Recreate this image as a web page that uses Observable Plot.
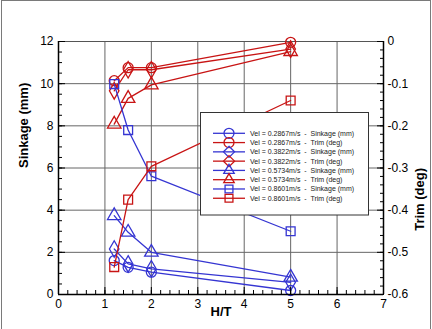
<!DOCTYPE html>
<html>
<head>
<meta charset="utf-8">
<script src="https://cdn.jsdelivr.net/npm/d3@7"></script>
<script src="https://cdn.jsdelivr.net/npm/@observablehq/plot@0.6"></script>
<style>
  html, body { margin: 0; padding: 0; background: #fff; }
  #wrap { position: relative; width: 432px; height: 329px; overflow: hidden; background: #fff; }
  #wrap svg { display: block; }
  #overlay { position: absolute; left: 0; top: 0; pointer-events: none; }
  #border { position: absolute; left: 1px; top: 0px; width: 428px; height: 340px; border: 1.5px solid #7a7a7a; pointer-events: none; }
</style>
</head>
<body>
<div id="wrap"></div>
<script>
// ---- data ----
const HT = [1.2, 1.5, 2, 5];
const velocities = ["0.2867", "0.3822", "0.5734", "0.8601"];
const symbols = ["circle", "diamond", "triangle", "square"];

const sinkage_02867 = [1.61, 1.29, 1.06, 0.19];
const sinkage_03822 = [2.16, 1.45, 1.22, 0.58];
const sinkage_05734 = [3.74, 2.95, 2.00, 0.82];
const sinkage_08601 = [9.98, 7.80, 5.61, 3.00];

const trim_02867 = [-0.093, -0.062, -0.062, -0.002];
const trim_03822 = [-0.117, -0.067, -0.067, -0.018];
const trim_05734 = [-0.196, -0.135, -0.103, -0.024];
const trim_08601 = [-0.535, -0.375, -0.296, -0.140];

const sinkageSeries = [sinkage_02867, sinkage_03822, sinkage_05734, sinkage_08601];
const trimSeries = [trim_02867, trim_03822, trim_05734, trim_08601];

const xTicks = [0, 1, 2, 3, 4, 5, 6, 7];
const sinkTicks = [0, 2, 4, 6, 8, 10, 12];
const trimTicks = [0, -0.1, -0.2, -0.3, -0.4, -0.5, -0.6];

const BLUE = "#3535d2";
const RED = "#c81414";

// trim axis maps [-0.6, 0] onto the sinkage axis [0, 12]
const trimToY = t => t * 20 + 12;
const yToTrim = y => (y - 12) / 20;

// ---- build table ----
const rows = [];
velocities.forEach((v, i) => {
  HT.forEach((h, j) => {
    rows.push({vel: v, symbol: symbols[i], series: "Sinkage", ht: h, value: sinkageSeries[i][j], y: sinkageSeries[i][j]});
    rows.push({vel: v, symbol: symbols[i], series: "Trim", ht: h, value: trimSeries[i][j], y: trimToY(trimSeries[i][j])});
  });
});

const minorX = d3.range(0, 7.0001, 0.2).map(d => +d.toFixed(2));
const minorY = d3.range(0, 12.0001, 0.5);
const minorTrimY = d3.range(-0.6, 0.0001, 0.02).map(t => trimToY(+t.toFixed(2)));

const colorOf = s => s === "Sinkage" ? BLUE : RED;

const marks = [
  Plot.gridX({ticks: [1, 2, 3, 4, 5, 6], stroke: "#666", strokeOpacity: 1}),
  Plot.gridY({ticks: [2, 4, 6, 8, 10], stroke: "#666", strokeOpacity: 1}),
  Plot.frame({stroke: "#555"}),
];

// lines and markers, per velocity and series
velocities.forEach((v, i) => {
  ["Sinkage", "Trim"].forEach(s => {
    const d = rows.filter(r => r.vel === v && r.series === s);
    marks.push(Plot.line(d, {x: "ht", y: "y", stroke: colorOf(s), strokeWidth: 1.3}));
    marks.push(Plot.dot(d, {x: "ht", y: "y", symbol: symbols[i], r: 5, stroke: colorOf(s), strokeWidth: 1.3, fill: "none"}));
  });
});

marks.push(
  // axis lines
  Plot.ruleX([0], {stroke: "#000", strokeWidth: 1.5}),
  Plot.ruleX([7], {stroke: "#000", strokeWidth: 1.5}),
  Plot.ruleY([0], {stroke: "#000", strokeWidth: 1.5}),
  // bottom axis
  Plot.axisX({ticks: xTicks, tickSize: 0, tickPadding: 5, label: null, fontSize: 12, tickFormat: d => String(d)}),
  Plot.axisX({ticks: xTicks, tickSize: -7, tickFormat: () => "", label: null}),
  Plot.axisX({ticks: minorX, tickSize: -4, tickFormat: () => "", label: null}),
  // left axis
  Plot.axisY({anchor: "left", ticks: sinkTicks, tickSize: 0, tickPadding: 5, label: null, fontSize: 12, tickFormat: d => String(d)}),
  Plot.axisY({anchor: "left", ticks: sinkTicks, tickSize: -7, tickFormat: () => "", label: null}),
  Plot.axisY({anchor: "left", ticks: minorY, tickSize: -4, tickFormat: () => "", label: null}),
  // right axis (trim)
  Plot.axisY({anchor: "right", ticks: trimTicks.map(trimToY), tickSize: 0, tickPadding: 4, label: null, fontSize: 12,
    tickFormat: d => String(+yToTrim(d).toFixed(1))}),
  Plot.axisY({anchor: "right", ticks: trimTicks.map(trimToY), tickSize: -7, tickFormat: () => "", label: null}),
  Plot.axisY({anchor: "right", ticks: minorTrimY, tickSize: -4, tickFormat: () => "", label: null}),
  // axis titles
  Plot.text(["Sinkage (mm)"], {text: d => d, frameAnchor: "left", rotate: -90, dx: -35, fontWeight: "bold", fontSize: 13}),
  Plot.text(["Trim (deg)"], {text: d => d, frameAnchor: "right", rotate: -90, dx: 36, fontWeight: "bold", fontSize: 13}),
  Plot.text(["H/T"], {text: d => d, frameAnchor: "bottom", dy: 21, fontWeight: "bold", fontSize: 13})
);

const chart = Plot.plot({
  width: 432,
  height: 329,
  marginLeft: 58,
  marginRight: 49,
  marginTop: 41,
  marginBottom: 35,
  x: {domain: [0, 7]},
  y: {domain: [0, 12]},
  style: {fontFamily: "'Liberation Sans', Arial, sans-serif", fontSize: "12px", color: "#000", background: "#fff"},
  marks
});

const wrap = document.getElementById("wrap");
wrap.appendChild(chart);

// ---- legend overlay (inside the plot area, opaque box) ----
const legendItems = [];
velocities.forEach((v, i) => {
  legendItems.push({label: `Vel = ${v}m/s  -  Sinkage (mm)`, color: BLUE, symbol: symbols[i]});
  legendItems.push({label: `Vel = ${v}m/s  -  Trim (deg)`, color: RED, symbol: symbols[i]});
});
const symbolMap = {circle: d3.symbolCircle, diamond: d3.symbolDiamond2, triangle: d3.symbolTriangle2, square: d3.symbolSquare2};

const ov = d3.create("svg")
  .attr("id", "overlay")
  .attr("width", 432).attr("height", 329);
const lg = ov.append("g");
lg.append("rect")
  .attr("x", 200.5).attr("y", 112.5).attr("width", 168).attr("height", 102.5)
  .attr("fill", "#fff").attr("stroke", "#333").attr("stroke-width", 1);
legendItems.forEach((it, k) => {
  const y = 133.3 + k * 9.28;
  lg.append("line").attr("x1", 213).attr("x2", 245).attr("y1", y).attr("y2", y)
    .attr("stroke", it.color).attr("stroke-width", 1.3);
  lg.append("path")
    .attr("d", d3.symbol(symbolMap[it.symbol], Math.PI * 25)())
    .attr("transform", `translate(229,${y})`)
    .attr("fill", "none").attr("stroke", it.color).attr("stroke-width", 1.3);
  lg.append("text")
    .attr("x", 250).attr("y", y).attr("dy", "0.35em")
    .attr("font-family", "'Liberation Sans', Arial, sans-serif")
    .attr("font-size", 7).attr("fill", "#222")
    .style("white-space", "pre")
    .text(it.label);
});
wrap.appendChild(ov.node());

const border = document.createElement("div");
border.id = "border";
wrap.appendChild(border);
</script>
</body>
</html>
